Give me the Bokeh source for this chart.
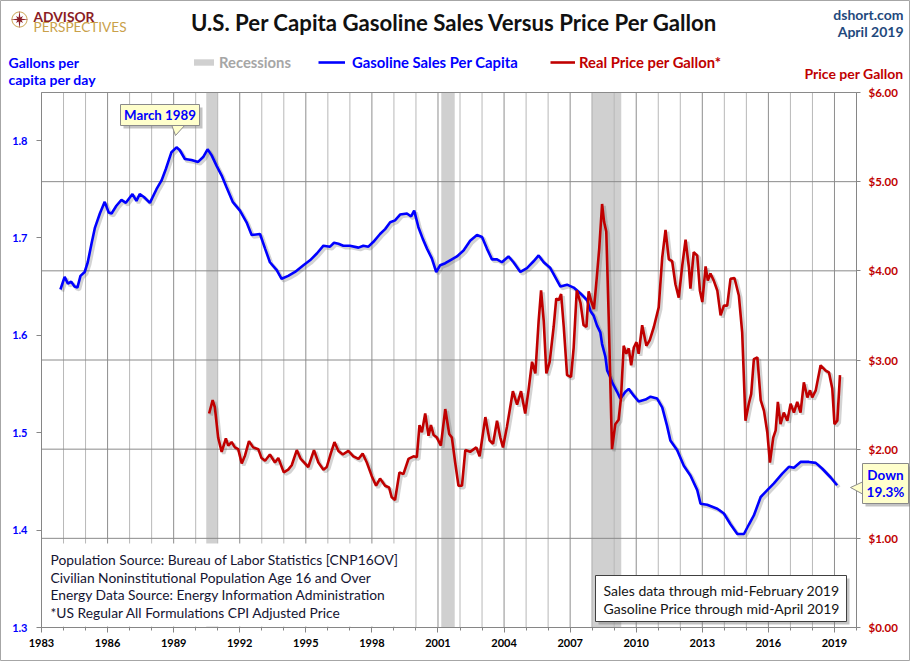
import numpy as np
from bokeh.plotting import figure
from bokeh.models import (Range1d, LinearAxis, SingleIntervalTicker, FixedTicker,
                          NumeralTickFormatter, Label, BoxAnnotation, PolyAnnotation,
                          Legend, LegendItem)
from bokeh.embed import file_html
from bokeh.resources import INLINE

# ---------------- data ----------------
sales_year = [1983.86, 1984.05, 1984.20, 1984.35, 1984.50, 1984.63, 1984.77, 1984.96, 1985.10, 1985.27,
              1985.42, 1985.65, 1985.87, 1986.05, 1986.18, 1986.40, 1986.63, 1986.83, 1987.13, 1987.31,
              1987.46, 1987.65, 1987.92, 1988.22, 1988.45, 1988.65, 1988.90, 1989.13, 1989.28, 1989.51,
              1989.81, 1990.11, 1990.34, 1990.54, 1990.72, 1990.95, 1991.18, 1991.40, 1991.68, 1992.01,
              1992.31, 1992.54, 1992.92, 1993.15, 1993.37, 1993.68, 1993.90, 1994.20, 1994.51, 1994.89,
              1995.19, 1995.50, 1995.80, 1996.10, 1996.28, 1996.48, 1996.70, 1997.00, 1997.39, 1997.61,
              1997.84, 1998.07, 1998.37, 1998.60, 1998.83, 1999.05, 1999.28, 1999.59, 1999.78, 1999.92,
              2000.11, 2000.31, 2000.50, 2000.72, 2000.92, 2001.10, 2001.33, 2001.55, 2001.86, 2002.16,
              2002.46, 2002.77, 2003.00, 2003.22, 2003.45, 2003.68, 2003.90, 2004.20, 2004.43, 2004.74,
              2005.04, 2005.34, 2005.57, 2005.80, 2006.10, 2006.56, 2006.86, 2007.16, 2007.47, 2007.77,
              2007.92, 2008.07, 2008.22, 2008.37, 2008.45, 2008.60, 2008.68, 2008.80, 2008.90, 2009.13,
              2009.28, 2009.51, 2009.66, 2009.89, 2010.11, 2010.42, 2010.65, 2010.95, 2011.18, 2011.40,
              2011.55, 2011.86, 2012.16, 2012.46, 2012.77, 2012.92, 2013.22, 2013.68, 2013.98, 2014.28,
              2014.59, 2014.89, 2015.12, 2015.34, 2015.65, 2015.95, 2016.25, 2016.63, 2016.93, 2017.16,
              2017.46, 2017.84, 2018.15, 2018.45, 2018.83, 2019.12]
sales_gal = [1.647, 1.660, 1.653, 1.655, 1.650, 1.649, 1.661, 1.665, 1.675, 1.694,
             1.710, 1.725, 1.737, 1.726, 1.725, 1.733, 1.739, 1.736, 1.745, 1.738,
             1.745, 1.742, 1.736, 1.750, 1.759, 1.771, 1.788, 1.793, 1.790, 1.781,
             1.780, 1.778, 1.783, 1.791, 1.785, 1.774, 1.764, 1.752, 1.737, 1.728,
             1.716, 1.703, 1.704, 1.689, 1.675, 1.667, 1.658, 1.661, 1.665, 1.672,
             1.677, 1.684, 1.692, 1.691, 1.695, 1.694, 1.692, 1.692, 1.690, 1.692,
             1.691, 1.696, 1.704, 1.709, 1.716, 1.718, 1.724, 1.725, 1.722, 1.728,
             1.711, 1.699, 1.689, 1.679, 1.665, 1.672, 1.674, 1.677, 1.681, 1.687,
             1.697, 1.703, 1.701, 1.689, 1.678, 1.678, 1.675, 1.681, 1.675, 1.665,
             1.669, 1.676, 1.682, 1.675, 1.669, 1.650, 1.652, 1.649, 1.643, 1.636,
             1.625, 1.620, 1.610, 1.603, 1.591, 1.578, 1.564, 1.558, 1.552, 1.542,
             1.535, 1.542, 1.545, 1.538, 1.532, 1.534, 1.537, 1.535, 1.526, 1.507,
             1.492, 1.482, 1.466, 1.456, 1.441, 1.427, 1.426, 1.422, 1.417, 1.406,
             1.396, 1.396, 1.406, 1.415, 1.434, 1.441, 1.448, 1.458, 1.465, 1.464,
             1.470, 1.470, 1.469, 1.463, 1.454, 1.446]

price_year = [1990.61, 1990.77, 1990.87, 1991.02, 1991.18, 1991.37, 1991.48, 1991.63, 1991.78, 1991.93,
              1992.09, 1992.24, 1992.42, 1992.61, 1992.84, 1992.99, 1993.15, 1993.37, 1993.60, 1993.75,
              1994.00, 1994.20, 1994.36, 1994.59, 1994.77, 1994.96, 1995.11, 1995.37, 1995.57, 1995.80,
              1995.95, 1996.13, 1996.30, 1996.48, 1996.68, 1996.93, 1997.16, 1997.39, 1997.58, 1997.77,
              1997.99, 1998.19, 1998.37, 1998.60, 1998.78, 1998.90, 1999.05, 1999.25, 1999.43, 1999.66,
              1999.89, 2000.04, 2000.16, 2000.27, 2000.42, 2000.57, 2000.68, 2000.80, 2000.95, 2001.13,
              2001.33, 2001.51, 2001.63, 2001.78, 2001.93, 2002.09, 2002.24, 2002.46, 2002.74, 2002.89,
              2003.15, 2003.34, 2003.50, 2003.68, 2003.83, 2003.95, 2004.13, 2004.40, 2004.59, 2004.77,
              2004.96, 2005.11, 2005.27, 2005.42, 2005.57, 2005.68, 2005.80, 2005.92, 2006.07, 2006.25,
              2006.37, 2006.48, 2006.59, 2006.71, 2006.86, 2007.04, 2007.16, 2007.30, 2007.47, 2007.61,
              2007.74, 2007.84, 2007.97, 2008.08, 2008.20, 2008.32, 2008.45, 2008.54, 2008.64, 2008.75,
              2008.90, 2009.05, 2009.20, 2009.31, 2009.43, 2009.55, 2009.66, 2009.77, 2009.89, 2010.01,
              2010.11, 2010.27, 2010.46, 2010.61, 2010.80, 2011.02, 2011.18, 2011.33, 2011.48, 2011.63,
              2011.78, 2011.93, 2012.09, 2012.24, 2012.39, 2012.46, 2012.61, 2012.77, 2012.89, 2013.00,
              2013.15, 2013.25, 2013.37, 2013.52, 2013.68, 2013.83, 2013.98, 2014.13, 2014.28, 2014.46,
              2014.66, 2014.81, 2014.96, 2015.11, 2015.22, 2015.34, 2015.50, 2015.65, 2015.80, 2015.95,
              2016.07, 2016.22, 2016.33, 2016.43, 2016.55, 2016.70, 2016.86, 2017.01, 2017.16, 2017.31,
              2017.46, 2017.61, 2017.77, 2017.89, 2017.99, 2018.15, 2018.37, 2018.60, 2018.75, 2018.90,
              2019.00, 2019.13, 2019.25]
price_usd = [2.40, 2.55, 2.47, 2.13, 1.97, 2.12, 2.04, 2.08, 2.02, 2.00,
             1.84, 1.93, 2.09, 2.02, 2.00, 1.90, 1.87, 1.94, 1.85, 1.90,
             1.74, 1.77, 1.82, 1.99, 1.89, 1.84, 1.80, 1.99, 1.85, 1.77,
             1.80, 1.95, 2.08, 1.98, 1.94, 1.98, 1.92, 1.89, 1.95, 1.85,
             1.70, 1.59, 1.67, 1.59, 1.57, 1.46, 1.43, 1.74, 1.72, 1.89,
             1.92, 1.91, 2.27, 2.19, 2.40, 2.15, 2.27, 2.16, 2.13, 2.04,
             2.45, 2.17, 2.13, 1.85, 1.59, 1.59, 1.99, 1.97, 2.02, 1.92,
             2.36, 2.10, 2.06, 2.32, 2.13, 2.02, 2.25, 2.65, 2.50, 2.65,
             2.40, 2.66, 2.98, 2.85, 3.44, 3.78, 3.44, 2.85, 2.98, 3.37,
             3.69, 3.67, 3.74, 3.37, 2.83, 2.81, 3.14, 3.78, 3.64, 3.39,
             3.37, 3.77, 3.65, 3.57, 3.90, 4.25, 4.75, 4.55, 4.44, 3.48,
             2.00, 2.28, 2.33, 2.58, 3.16, 3.07, 3.13, 2.94, 3.14, 3.20,
             3.07, 3.39, 3.16, 3.22, 3.37, 3.59, 4.15, 4.46, 4.13, 4.11,
             3.85, 3.70, 4.06, 4.35, 4.04, 3.80, 4.21, 4.17, 3.78, 3.65,
             4.05, 3.89, 3.97, 3.89, 3.78, 3.50, 3.61, 3.61, 3.91, 3.92,
             3.72, 3.31, 2.32, 2.51, 2.62, 3.01, 3.03, 2.55, 2.43, 2.19,
             1.85, 2.13, 2.21, 2.53, 2.28, 2.41, 2.32, 2.51, 2.41, 2.53,
             2.41, 2.75, 2.58, 2.66, 2.58, 2.66, 2.94, 2.88, 2.86, 2.68,
             2.28, 2.32, 2.83]

rec_start = [1990.48, 2001.15, 2007.96]
rec_end = [1991.00, 2001.76, 2009.32]

year_min, year_max = 1983, 2020
gal_ticks = [1.3, 1.4, 1.5, 1.6, 1.7, 1.8]
price_ticks = [0, 1, 2, 3, 4, 5, 6]
price_grid = [1, 2, 3, 4, 5]
label_years = list(range(1983, 2020, 3))
all_years = list(range(1984, 2020))

title_text = "U.S. Per Capita Gasoline Sales Versus Price Per Gallon"
notes_left = ["Population Source: Bureau of Labor Statistics [CNP16OV]",
              "Civilian Noninstitutional Population  Age 16 and Over",
              "Energy Data Source: Energy Information Administration",
              "*US Regular All Formulations CPI Adjusted Price"]
notes_right = ["Sales data through mid-February 2019",
               "Gasoline Price through mid-April 2019"]

# ---------------- layout ----------------
FONT = "Lato"
BLUE = "#0000ff"
RED = "#c00000"
W, H = 910, 661
PL, PT, PR, PB = 41, 92, 856, 627          # plot area in canvas px
GAL_MIN, GAL_PX = 1.3, 974.0               # left axis: value at bottom, px per gallon
P_MAX = 6.0

px_year = (PR - PL) / (year_max - year_min)
px_usd = (PB - PT) / P_MAX
gal_top = GAL_MIN + (PB - PT) / GAL_PX

x_rng = Range1d(year_min - PL / px_year, year_max + (W - PR) / px_year)
p_rng = Range1d(-(H - PB) / px_usd, P_MAX + PT / px_usd)
g_rng = Range1d(GAL_MIN - (H - PB) / GAL_PX, gal_top + PT / GAL_PX)


def S(X, Y):
    """canvas pixel (top-left origin) -> frame screen units (frame == canvas, y up)"""
    return X, H - Y


p = figure(width=W, height=H, x_range=x_rng, y_range=p_rng,
           x_axis_location=None, y_axis_location=None, title_location=None,
           output_backend="svg", toolbar_location=None,
           min_border=0, min_border_left=0, min_border_right=0, min_border_top=0, min_border_bottom=0,
           outline_line_color="#a6a6a6", outline_line_width=1,
           background_fill_color="white", border_fill_color="white")
p.extra_y_ranges = {"gal": g_rng}
p.xgrid.visible = False
p.ygrid.visible = False

# recession bands
rec_r = p.quad(left=rec_start, right=rec_end, bottom=0, top=P_MAX, fill_color="#d0d0d0",
               line_color=None, level="image")

# grid lines (drawn from the tick lists)
minor_years = [y for y in all_years if y not in label_years]
major_years = [y for y in all_years if y in label_years]
p.segment(x0=minor_years, y0=0, x1=minor_years, y1=P_MAX, line_color="#b8b8b8", line_width=1, level="underlay")
p.segment(x0=major_years, y0=0, x1=major_years, y1=P_MAX, line_color="#8e8e8e", line_width=1, level="underlay")
p.segment(x0=year_min, y0=price_grid, x1=year_max, y1=price_grid, line_color="#8a8a8a", line_width=1,
          level="underlay")
# plot-area border
p.quad(left=[year_min], right=[year_max], bottom=[0], top=[P_MAX], fill_color=None,
       line_color="#8a8a8a", line_width=1, level="underlay")

# shadows
dx = 2.0 / px_year
p.line(np.array(sales_year) + dx, np.array(sales_gal) - 2.0 / GAL_PX, y_range_name="gal",
       line_color="#606060", line_alpha=0.28, line_width=3.5)
p.line(np.array(price_year) + dx, np.array(price_usd) - 2.0 / px_usd,
       line_color="#606060", line_alpha=0.28, line_width=3.5)

blue_r = p.line(sales_year, sales_gal, y_range_name="gal", line_color=BLUE, line_width=2.6)
red_r = p.line(price_year, price_usd, line_color=RED, line_width=2.6)

# axes (fixed at the plot-area edges)
xax = LinearAxis(fixed_location=0, bounds=(year_min, year_max),
                 ticker=SingleIntervalTicker(interval=3, num_minor_ticks=3),
                 axis_line_color="#868686", major_tick_line_color="#868686", minor_tick_line_color="#868686",
                 major_tick_out=5, major_tick_in=0, minor_tick_out=3, minor_tick_in=0,
                 major_label_text_font=FONT, major_label_text_font_size="11px",
                 major_label_text_font_style="bold", major_label_text_color="#000000",
                 major_label_standoff=6)
p.add_layout(xax, "below")

lax = LinearAxis(y_range_name="gal", fixed_location=year_min, bounds=(GAL_MIN, gal_top),
                 ticker=FixedTicker(ticks=gal_ticks),
                 axis_line_color="#868686", major_tick_line_color="#868686",
                 major_tick_out=5, major_tick_in=0, minor_tick_line_color=None,
                 major_label_text_font=FONT, major_label_text_font_size="11px",
                 major_label_text_font_style="bold", major_label_text_color=BLUE,
                 major_label_standoff=9)
p.add_layout(lax, "left")

rax = LinearAxis(fixed_location=year_max, bounds=(0, P_MAX),
                 ticker=FixedTicker(ticks=price_ticks), formatter=NumeralTickFormatter(format="$0.00"),
                 axis_line_color="#868686", major_tick_line_color="#868686",
                 major_tick_out=4, major_tick_in=0, minor_tick_line_color=None,
                 major_label_text_font=FONT, major_label_text_font_size="11.5px",
                 major_label_text_font_style="bold", major_label_text_color=RED,
                 major_label_standoff=8)
p.add_layout(rax, "right")


def lab(text, X, Y, size, color, bold=True, align="left"):
    sx_, sy_ = S(X, Y)
    p.add_layout(Label(x=sx_, y=sy_, x_units="screen", y_units="screen", text=text,
                       text_font=FONT, text_font_size=f"{size}px",
                       text_font_style="bold" if bold else "normal", text_color=color,
                       text_align=align, text_baseline="middle"))


def box(X1, Y1, X2, Y2, fill, line=None, alpha=1.0, lw=1):
    l, b = S(X1, Y2)
    r, t = S(X2, Y1)
    p.add_layout(BoxAnnotation(left=l, right=r, bottom=b, top=t,
                               left_units="screen", right_units="screen",
                               top_units="screen", bottom_units="screen",
                               fill_color=fill, fill_alpha=alpha,
                               line_color=line, line_alpha=1.0 if line else 0.0, line_width=lw))


def poly(pts, fill, line=None, fill_alpha=1.0):
    xs, ys = zip(*[S(a, b) for a, b in pts])
    p.add_layout(PolyAnnotation(xs=list(xs), ys=list(ys), xs_units="screen", ys_units="screen",
                                fill_color=fill, fill_alpha=fill_alpha,
                                line_color=line, line_alpha=1.0 if line else 0.0, line_width=1))


# bottom-left notes (white panel covering the grid)
box(42, 543, 413, 626, "white")
for i, t in enumerate(notes_left):
    lab(t, 50, 559 + i * 17.6, 13.8, "#141432", bold=False)

# bottom-right notes box
box(598, 578, 849, 624, "#7a7a7a", alpha=0.45)
box(595, 575, 846, 621, "white", "#404040")
lab(notes_right[0], 721, 590, 14, "#141414", bold=False, align="center")
lab(notes_right[1], 721, 607.5, 14, "#141414", bold=False, align="center")

# March 1989 callout
box(123, 107, 202, 128, "#7a7a7a", alpha=0.45)
poly([(171, 124), (185, 124), (175, 135)], "#ffffcc", "#8a8a8a")
box(120, 104, 199, 125, "#ffffcc", "#8a8a8a")
lab("March 1989", 159.5, 114.5, 13.3, BLUE, align="center")

# Down 19.3% callout
box(865, 466, 911, 506, "#7a7a7a", alpha=0.45)
poly([(850, 487), (863, 481), (863, 494)], "#ffffcc", "#8a8a8a")
box(862, 463, 908, 503, "#ffffcc", "#8a8a8a")
lab("Down", 885, 474, 13.5, BLUE, align="center")
lab("19.3%", 885, 491, 13.5, BLUE, align="center")

# titles and axis captions
lab(title_text, 454, 22, 22.2, "#111111", align="center")
lab("dshort.com", 903, 14, 14, "#1f497d", align="right")
lab("April 2019", 903, 31, 14, "#1f497d", align="right")
lab("Gallons per", 8, 62, 14, BLUE)
lab("capita per day", 8, 79, 14, BLUE)
lab("Price per Gallon", 903, 73, 14, RED, align="right")

# logo
ang = np.linspace(0, 2 * np.pi, 40, endpoint=False)
ring = [(19 + 7.5 * np.cos(a), 19 + 7.5 * np.sin(a)) for a in ang]
poly(ring, "white", "#c9a14a")
star = []
for k in range(16):
    a = k * np.pi / 8 - np.pi / 2
    r = 9.0 if k % 4 == 0 else (5.0 if k % 2 == 0 else 2.2)
    star.append((19 + r * np.cos(a), 19 + r * np.sin(a)))
poly(star, "#8b1c24", None)
lab("ADVISOR", 33, 15.5, 13.8, "#8b1c24")
lab("PERSPECTIVES", 33, 26.5, 13.6, "#c9a14a", bold=False)

# legends
leg_common = dict(orientation="horizontal", padding=0, margin=0, spacing=0,
                  border_line_alpha=0, background_fill_alpha=0,
                  label_text_font=FONT, label_text_font_size="14.8px", label_text_font_style="bold",
                  glyph_height=8, label_height=8)
for rend, text, col, X, gw, so in [(rec_r, "Recessions", "#a6a6a6", 191, 25, 3),
                                   (blue_r, "Gasoline Sales Per Capita", BLUE, 318, 27, 7),
                                   (red_r, "Real Price per Gallon*", RED, 550, 25, 4)]:
    lx, ly = S(X, 62)
    lg = Legend(items=[LegendItem(label=text, renderers=[rend])], location=(lx, ly - 9),
                label_text_color=col, glyph_width=gw, label_standoff=so, **leg_common)
    p.add_layout(lg)

open("out.html", "w").write(file_html(p, INLINE))
